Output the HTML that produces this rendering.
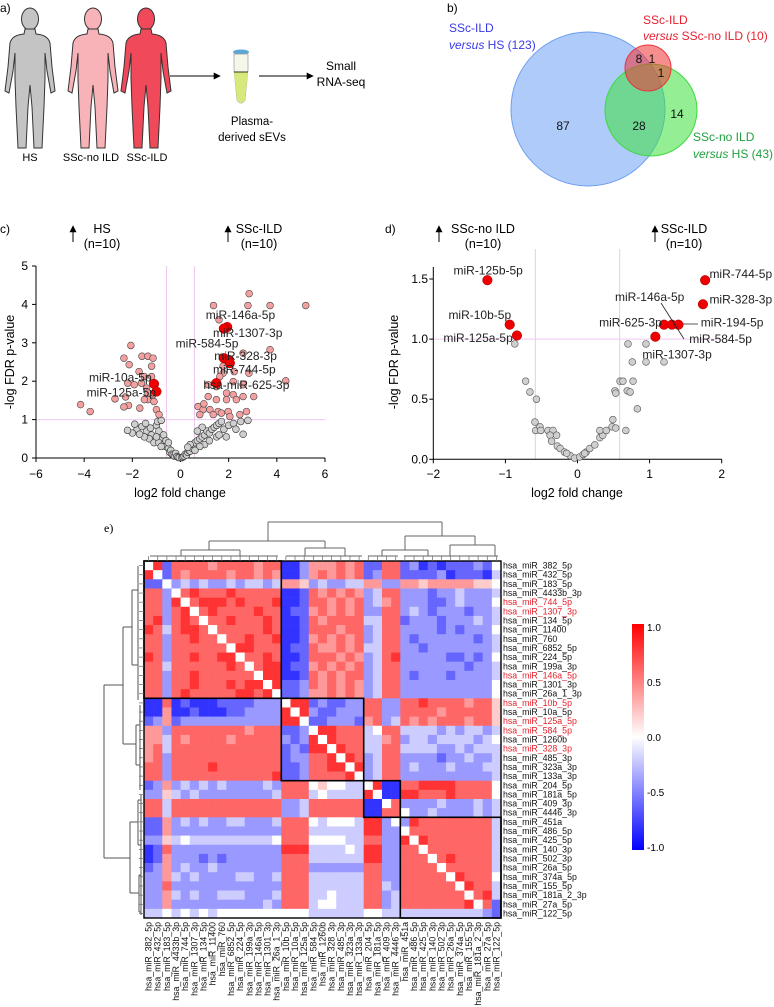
<!DOCTYPE html>
<html><head><meta charset="utf-8"><style>
html,body{margin:0;padding:0;background:#fff}
svg{display:block;font-family:"Liberation Sans","DejaVu Sans",sans-serif}
</style></head><body>
<svg id="fig" width="774" height="1007" viewBox="0 0 774 1007" xmlns="http://www.w3.org/2000/svg">
<defs>
<marker id="ah" viewBox="0 0 10 10" refX="9" refY="5" markerWidth="7" markerHeight="7" orient="auto"><path d="M0,0 L10,5 L0,10 z" fill="#000"/></marker>
<linearGradient id="cbg" x1="0" y1="0" x2="0" y2="1"><stop offset="0" stop-color="#ff0000"/><stop offset="0.5" stop-color="#ffffff"/><stop offset="1" stop-color="#0000ff"/></linearGradient>
<symbol id="person" viewBox="0 0 52 143"><ellipse cx="26" cy="12" rx="8.5" ry="11"/><path d="M21,22 L31,22 L32,27 Q44,28 46,36 L48,60 L51,84 L47,86 L43,64 L41,46 L41,72 L40,100 L38,141 L30,141 L28,100 L26,78 L24,100 L22,141 L14,141 L12,100 L11,72 L11,46 L9,64 L5,86 L1,84 L4,60 L6,36 Q8,28 20,27 Z"/></symbol>
</defs>

<g>
<text x="0" y="12" font-size="12">a)</text>
<use href="#person" x="4" y="7" width="52" height="143" fill="#c4c4c4" stroke="#333" stroke-width="1"/>
<use href="#person" x="67" y="7" width="52" height="143" fill="#f7b3b8" stroke="#333" stroke-width="1"/>
<use href="#person" x="120" y="7" width="52" height="143" fill="#f04a5a" stroke="#333" stroke-width="1"/>
<text x="30" y="161" font-size="11" text-anchor="middle">HS</text>
<text x="91" y="161" font-size="11" text-anchor="middle">SSc-no ILD</text>
<text x="147" y="161" font-size="11" text-anchor="middle">SSc-ILD</text>
<line x1="170" y1="76" x2="220" y2="76" stroke="#000" stroke-width="1" marker-end="url(#ah)"/>
<g>
<ellipse cx="241" cy="52" rx="8" ry="2.5" fill="#5aa7d8"/>
<path d="M234,54 L248,54 L248,70 L245,100 Q241,106 237,100 L234,70 Z" fill="#f4f8e8" stroke="#999" stroke-width="0.7"/>
<path d="M234,72 L248,72 L245,100 Q241,106 237,100 Z" fill="#d9e87a"/>
<line x1="234" y1="72" x2="248" y2="72" stroke="#333" stroke-width="1"/>
</g>
<text x="252" y="125" font-size="11.5" text-anchor="middle">Plasma-</text>
<text x="252" y="141" font-size="11.5" text-anchor="middle">derived sEVs</text>
<line x1="259" y1="76" x2="313" y2="76" stroke="#000" stroke-width="1" marker-end="url(#ah)"/>
<text x="341" y="70" font-size="12" text-anchor="middle">Small</text>
<text x="341" y="86" font-size="12" text-anchor="middle">RNA-seq</text>
</g>

<g>
<text x="447" y="12" font-size="12">b)</text>
<circle cx="588" cy="109" r="77" fill="rgba(110,160,245,0.55)" stroke="#6d9ff0" stroke-width="1"/>
<circle cx="651" cy="110" r="46" fill="rgba(60,225,60,0.55)" stroke="#3ed83e" stroke-width="1"/>
<circle cx="648" cy="68" r="23" fill="rgba(240,50,50,0.55)" stroke="#e8343c" stroke-width="1"/>
<g font-size="12" fill="#111" text-anchor="middle">
<text x="563" y="130">87</text>
<text x="639" y="130">28</text>
<text x="677" y="118">14</text>
<text x="639" y="63">8</text>
<text x="652" y="63">1</text>
<text x="661" y="77">1</text>
</g>
<g font-size="12">
<text x="449" y="32" fill="#3a3ae8">SSc-ILD</text>
<text x="449" y="49" fill="#3a3ae8"><tspan font-style="italic">versus</tspan> HS (123)</text>
<text x="643" y="24" fill="#e82030">SSc-ILD</text>
<text x="643" y="40" fill="#e82030"><tspan font-style="italic">versus</tspan> SSc-no ILD (10)</text>
<text x="693" y="141" fill="#20a040">SSc-no ILD</text>
<text x="693" y="158" fill="#20a040"><tspan font-style="italic">versus</tspan> HS (43)</text>
</g>
</g>

<g id="pc"></g>
<g id="pd"></g>
<g id="pe"></g>
</svg>
<script>
const cGrayX=[-1.8,-2.0,-1.6,-1.4,-1.2,-1.0,-0.9,-0.8,-0.7,-1.3,-1.5,-1.7,-1.1,-0.9,-0.7,-0.6,-0.5,-0.45,-0.4,-0.35,-0.3,-0.25,-0.2,-0.15,-0.1,-0.05,-0.6,-0.8,-1.0,-1.25,-1.45,-0.5,-0.95,-0.8,-2.2,-1.9,0.05,0.1,0.15,0.2,0.25,0.3,0.35,0.4,0.45,0.5,0.55,0.6,0.7,0.8,0.9,1.0,1.1,1.2,1.3,1.4,1.5,1.6,1.7,1.8,2.0,2.2,2.5,2.8,2.6,1.0,0.8,0.6,1.2,1.5,0.9,0.7,1.9,0.4,0.3,2.3,1.6];
const cGrayY=[0.75,0.65,0.82,0.7,0.6,0.85,0.7,0.5,0.6,0.5,0.55,0.62,0.4,0.4,0.35,0.3,0.25,0.15,0.2,0.1,0.08,0.05,0.12,0.04,0.02,0.01,0.45,0.3,0.55,0.78,0.9,0.4,0.95,0.98,0.72,0.88,0.01,0.03,0.05,0.1,0.08,0.15,0.2,0.18,0.3,0.25,0.35,0.4,0.45,0.5,0.55,0.6,0.7,0.65,0.75,0.8,0.85,0.9,0.95,0.75,0.85,0.9,0.95,0.98,0.62,0.35,0.3,0.2,0.45,0.55,0.8,0.7,0.55,0.35,0.28,0.75,0.6];
const cPinkX=[2.85,1.37,2.8,3.72,5.2,1.6,3.72,-2.06,-2.35,-1.6,-1.35,-1.14,-2.13,-1.2,-1.72,-1.5,-1.2,-2.19,-1.92,-1.62,-1.41,-2.28,-2.72,-2.16,-2.35,-1.69,-4.15,-3.75,-1.35,-1.14,-1.1,-1.0,-0.89,-1.35,-1.5,1.77,2.23,1.77,2.0,2.6,2.84,1.63,1.15,1.42,2.19,2.6,4.37,3.04,1.15,1.49,1.91,2.19,2.6,1.91,2.32,0.73,0.94,1.22,1.56,1.98,2.74,0.8,1.36,2.05,2.46,1.7,0.97,1.49];
const cPinkY=[4.28,3.97,3.97,3.97,3.97,3.6,2.82,2.93,2.6,2.65,2.65,2.6,2.43,2.39,2.25,2.12,2.12,1.95,1.91,1.95,1.82,1.59,1.54,1.37,1.33,1.3,1.39,1.21,1.52,1.65,1.47,1.26,1.13,1.69,1.52,2.39,2.25,2.21,2.47,2.73,2.21,2.12,1.91,1.95,1.99,1.91,2.01,1.6,1.6,1.52,1.69,1.65,1.6,1.52,1.52,1.34,1.26,1.26,1.21,1.21,1.21,1.13,1.13,1.08,1.13,1.17,1.41,1.86];
const cRedX=[1.94,1.8,1.8,1.98,2.05,1.49,-1.1,-1.0];
const cRedY=[3.41,3.37,2.6,2.56,2.47,1.95,1.93,1.73];
const cXTicks=[-6,-4,-2,0,2,4,6];
const cYTicks=[0,1,2,3,4,5];
const cLabels=["miR-146a-5p","miR-1307-3p","miR-584-5p","miR-328-3p","miR-744-5p","hsa-miR-625-3p","miR-10a-5p","miR-125a-5p"];
const cLabelX=[1.05,1.35,-0.2,1.4,1.35,0.95,-3.8,-3.9];
const cLabelY=[3.73,3.25,2.98,2.65,2.3,1.9,2.1,1.7];

const dGrayX=[-0.87,-0.72,-0.66,-0.57,-0.59,-0.58,-0.52,-0.51,-0.41,-0.34,-0.38,-0.29,-0.36,-0.28,-0.24,-0.18,-0.1,-0.04,0.03,0.08,0.12,0.17,0.24,0.31,0.35,0.31,0.4,0.49,0.48,0.53,0.52,0.53,0.59,0.63,0.67,0.69,0.73,0.7,0.76,0.77,0.83,0.95,0.95,1.2,-0.15,0.1];
const dGrayY=[0.96,0.65,0.56,0.5,0.31,0.24,0.27,0.24,0.24,0.24,0.2,0.2,0.15,0.11,0.09,0.06,0.03,0.01,0.02,0.04,0.06,0.09,0.12,0.18,0.2,0.24,0.24,0.33,0.27,0.26,0.57,0.55,0.65,0.65,0.24,0.57,0.56,0.96,0.81,0.65,0.42,0.96,0.81,0.81,0.05,0.05];
const dRedX=[-1.25,-0.94,-0.84,1.77,1.74,1.2,1.31,1.4,1.08];
const dRedY=[1.49,1.12,1.03,1.49,1.29,1.12,1.12,1.12,1.02];
const dXTicks=[-2,-1,0,1,2];
const dYTicks=[0,0.5,1,1.5];
const dLabels=["miR-125b-5p","miR-10b-5p","miR-125a-5p","miR-744-5p","miR-328-3p","miR-146a-5p","miR-625-3p","miR-194-5p","miR-584-5p","miR-1307-3p"];
const dLabelX=[-1.72,-1.79,-1.86,1.83,1.83,0.52,0.3,1.71,1.55,0.9];
const dLabelY=[1.57,1.2,1.01,1.54,1.33,1.35,1.14,1.14,1.0,0.87];

const miRNAs=["hsa_miR_382_5p","hsa_miR_432_5p","hsa_miR_183_5p","hsa_miR_4433b_3p","hsa_miR_744_5p","hsa_miR_1307_3p","hsa_miR_134_5p","hsa_miR_11400","hsa_miR_760","hsa_miR_6852_5p","hsa_miR_224_5p","hsa_miR_199a_3p","hsa_miR_146a_5p","hsa_miR_1301_3p","hsa_miR_26a_1_3p","hsa_miR_10b_5p","hsa_miR_10a_5p","hsa_miR_125a_5p","hsa_miR_584_5p","hsa_miR_1260b","hsa_miR_328_3p","hsa_miR_485_3p","hsa_miR_323a_3p","hsa_miR_133a_3p","hsa_miR_204_5p","hsa_miR_181a_5p","hsa_miR_409_3p","hsa_miR_4446_3p","hsa_miR_451a","hsa_miR_486_5p","hsa_miR_425_5p","hsa_miR_140_3p","hsa_miR_502_3p","hsa_miR_26a_5p","hsa_miR_374a_5p","hsa_miR_155_5p","hsa_miR_181a_2_3p","hsa_miR_27a_5p","hsa_miR_122_5p"];
const highlighted=["hsa_miR_744_5p","hsa_miR_1307_3p","hsa_miR_146a_5p","hsa_miR_10b_5p","hsa_miR_125a_5p","hsa_miR_584_5p","hsa_miR_328_3p"];
const corrRows=[
"w92888878888788113777878228823121222325",
"9w2878888788787113787878238822223122214",
"22w343433434434776343344773377677777665",
"883w89888988888112878787348833323343334",
"8839w8999898889112887878347833322343335",
"88389w898888988122787878338834323332334",
"893898w88988898112878888448823332333434",
"9848998w8888898112888788348833332323335",
"88388988w889889112787878348832333333234",
"883888888w99888122877878448833233333334",
"9838898899w8898112888787348933333223235",
"88488888898w899122787878348833333332334",
"883889888888w99112878788348832333233334",
"8838898889899w9223878787348833333333335",
"88389888889989w223778787348833333333335",
"118121112222333w99232233883388988887886",
"1171121112233339w9322333883388887888886",
"23723333333333399w223332783487878887886",
"773888888887888223w99888458844443434434",
"7748788887888883239w9888447834434444345",
"78488888888888823299w988448844443343444",
"783888888888888233889w98348833332334334",
"8838888988888882238899w9348834333433344",
"88388888888888922388889w348833333333334",
"237343434333343888565544w91188999988885",
"3364343333333348884544449w1199888988885",
"88488888888888833488888811w833334333434",
"8848888888888883348888881188w3343333434",
"227343433443334888545554993w39888888884",
"2273333333333338884444449933w8888888884",
"33645444444444588855554488339w988888884",
"128333333333333999444454993388w88888884",
"1273332323333338884444449933888w8988884",
"23734334333333388833333388338888w888884",
"337434333344334888444444883388888w98885",
"3383333333333338884444448843888888w9884",
"33743433444333488844544488348888888w894",
"337333333333343888455444883488888889w82",
"445454545555555555444444554444444444432"
];
const cbTicks=[1.0,0.5,0.0,-0.5,-1.0];

const NS="http://www.w3.org/2000/svg";
function mk(parent,tag,attrs){const e=document.createElementNS(NS,tag);for(const k in attrs)e.setAttribute(k,attrs[k]);parent.appendChild(e);return e;}
function txt(parent,s,attrs){const e=mk(parent,"text",attrs);e.textContent=s;return e;}
function axisLinear(d0,d1,p0,p1){return v=>p0+(v-d0)/(d1-d0)*(p1-p0);}

(function(){
const g=document.getElementById("pc");
const X=axisLinear(-6,6,36,325), Y=axisLinear(0,5,458,266);
let t;
t=txt(g,"c)",{x:0,y:233,"font-size":12});


for(const [ax,lbl,cx,nm] of [[73,"HS",102,"hs"],[228,"SSc-ILD",259,"ssc-ild"]]){
  const a=mk(g,"line",{x1:ax,y1:242,x2:ax,y2:226,stroke:"#000","stroke-width":1,"marker-end":"url(#ah)"});
  
  
  t=txt(g,lbl,{x:cx,y:233,"font-size":12.5,"text-anchor":"middle"});
  
  
  t=txt(g,"(n=10)",{x:cx,y:248,"font-size":12.5,"text-anchor":"middle"});
  
  
}
let l=mk(g,"line",{x1:X(-0.58),x2:X(-0.58),y1:Y(5),y2:Y(0),stroke:"#efc6f2","stroke-width":1});


l=mk(g,"line",{x1:X(0.58),x2:X(0.58),y1:Y(5),y2:Y(0),stroke:"#efc6f2","stroke-width":1});


l=mk(g,"line",{x1:X(-6),x2:X(6),y1:Y(1),y2:Y(1),stroke:"#efc6f2","stroke-width":1});


l=mk(g,"path",{d:`M${X(-6)},${Y(5)} V${Y(0)} H${X(6)}`,fill:"none",stroke:"#000","stroke-width":1});


for(const v of cXTicks){
  mk(g,"line",{x1:X(v),x2:X(v),y1:Y(0),y2:Y(0)+4,stroke:"#000"});
  t=txt(g,v<0?"\u2212"+(-v):String(v),{x:X(v),y:478,"font-size":12,"text-anchor":"middle"});
  
  
}
for(const v of cYTicks){
  mk(g,"line",{x1:X(-6)-4,x2:X(-6),y1:Y(v),y2:Y(v),stroke:"#000"});
  t=txt(g,String(v),{x:28,y:Y(v)+4,"font-size":12,"text-anchor":"end"});
  
  
}
t=txt(g,"log2 fold change",{x:180,y:497,"font-size":12.5,"text-anchor":"middle"});


t=txt(g,"-log FDR p-value",{x:0,y:0,"font-size":12.5,"text-anchor":"middle",transform:"translate(14,362) rotate(-90)"});


for(let i=0;i<cGrayX.length;i++){const c=mk(g,"circle",{cx:X(cGrayX[i]),cy:Y(cGrayY[i]),r:3.4,fill:"#cfcfcf",stroke:"#333","stroke-width":0.6});

}
for(let i=0;i<cPinkX.length;i++){const c=mk(g,"circle",{cx:X(cPinkX[i]),cy:Y(cPinkY[i]),r:3.4,fill:"#f4a0a0",stroke:"#444","stroke-width":0.6});

}
for(let i=0;i<cRedX.length;i++){const c=mk(g,"circle",{cx:X(cRedX[i]),cy:Y(cRedY[i]),r:4.8,fill:"#ee0000",stroke:"#900","stroke-width":0.5});

}
for(let i=0;i<cLabels.length;i++){t=txt(g,cLabels[i],{x:X(cLabelX[i]),y:Y(cLabelY[i])+4,"font-size":12,fill:"#222"});

}
})();

(function(){
const g=document.getElementById("pd");
const X=axisLinear(-2,2,433.3,721.7), Y=axisLinear(0,1.5,459.3,279);
let t;
t=txt(g,"d)",{x:385,y:233,"font-size":12});


for(const [ax,lbl,cx,nm] of [[439,"SSc-no ILD",483,"ssc-no-ild"],[655,"SSc-ILD",684,"ssc-ild"]]){
  const a=mk(g,"line",{x1:ax,y1:242,x2:ax,y2:226,stroke:"#000","stroke-width":1,"marker-end":"url(#ah)"});
  
  
  t=txt(g,lbl,{x:cx,y:233,"font-size":12.5,"text-anchor":"middle"});
  
  
  t=txt(g,"(n=10)",{x:cx,y:248,"font-size":12.5,"text-anchor":"middle"});
  
  
}
let l=mk(g,"line",{x1:X(-0.585),x2:X(-0.585),y1:249,y2:Y(0),stroke:"#efc6f2","stroke-width":1});


l=mk(g,"line",{x1:X(0.585),x2:X(0.585),y1:249,y2:Y(0),stroke:"#efc6f2","stroke-width":1});


l=mk(g,"line",{x1:X(-2),x2:X(2),y1:Y(1),y2:Y(1),stroke:"#efc6f2","stroke-width":1});


l=mk(g,"path",{d:`M${X(-2)},${Y(1.6)} V${Y(0)} H${X(2)}`,fill:"none",stroke:"#000","stroke-width":1});


for(const v of dXTicks){
  mk(g,"line",{x1:X(v),x2:X(v),y1:Y(0),y2:Y(0)+4,stroke:"#000"});
  t=txt(g,v<0?"\u2212"+(-v):String(v),{x:X(v),y:478,"font-size":12,"text-anchor":"middle"});
  
  
}
for(const v of dYTicks){
  mk(g,"line",{x1:X(-2)-4,x2:X(-2),y1:Y(v),y2:Y(v),stroke:"#000"});
  t=txt(g,v.toFixed(1),{x:428,y:Y(v)+4,"font-size":12,"text-anchor":"end"});
  
  
}
t=txt(g,"log2 fold change",{x:577,y:497,"font-size":12.5,"text-anchor":"middle"});


t=txt(g,"-log FDR p-value",{x:0,y:0,"font-size":12.5,"text-anchor":"middle",transform:"translate(398,362) rotate(-90)"});


for(let i=0;i<dGrayX.length;i++){const c=mk(g,"circle",{cx:X(dGrayX[i]),cy:Y(dGrayY[i]),r:3.4,fill:"#cfcfcf",stroke:"#555","stroke-width":0.6});

}
for(let i=0;i<dRedX.length;i++){const c=mk(g,"circle",{cx:X(dRedX[i]),cy:Y(dRedY[i]),r:4.8,fill:"#ee0000",stroke:"#900","stroke-width":0.5});

}
l=mk(g,"path",{d:"M661,303 L684,339 M683,324 L698,324",stroke:"#222","stroke-width":0.8,fill:"none"});


for(let i=0;i<dLabels.length;i++){t=txt(g,dLabels[i],{x:X(dLabelX[i]),y:Y(dLabelY[i])+4,"font-size":12,fill:"#222"});

}
})();

(function(){
const g=document.getElementById("pe");
const n=miRNAs.length, x0=144, y0=561, size=357, cs=size/n;
let t=txt(g,"e)",{x:104,y:532,"font-size":12,"font-family":"Liberation Serif, serif"});


function col(r){
  r=Math.max(-1,Math.min(1,r));
  if(r>=0){const k=Math.round(255*(1-r));return `rgb(255,${k},${k})`;}
  const k=Math.round(255*(1+r));return `rgb(${k},${k},255)`;
}
for(let i=0;i<n;i++){
  const row=corrRows[i];
  for(let j=0;j<n;j++){
    const ch=row[j];
    const r=ch==="w"?0:(parseInt(ch,10)-5)/5;
    const c=mk(g,"rect",{x:(x0+j*cs).toFixed(2),y:(y0+i*cs).toFixed(2),width:(cs+0.3).toFixed(2),height:(cs+0.3).toFixed(2),fill:col(r)});
    
    
  }
}
const blocks=[[0,15],[15,24],[24,28],[28,39]];
for(const [a,b] of blocks){
  const r=mk(g,"rect",{x:x0+a*cs,y:y0+a*cs,width:(b-a)*cs,height:(b-a)*cs,fill:"none",stroke:"#000","stroke-width":1.6});
  
  
}
const fr=mk(g,"rect",{x:x0,y:y0,width:size,height:size,fill:"none",stroke:"#000","stroke-width":1.4});


for(let i=0;i<n;i++){
  const red=highlighted.includes(miRNAs[i]);
  t=txt(g,miRNAs[i],{x:503,y:(y0+(i+0.5)*cs+3).toFixed(2),"font-size":8.8,fill:red?"#e8202a":"#111"});
  
  
  const cx=x0+(i+0.5)*cs+3;
  t=txt(g,miRNAs[i],{x:0,y:0,"font-size":8.8,fill:"#111","text-anchor":"end",transform:`translate(${cx.toFixed(2)},922) rotate(-90)`});
  
  
}
const dtop="M268,522 H442 M268,522 V541 M442,522 V536 M209,541 H325 M209,541 V550 M325,541 V548 M181,550 H240 M181,550 V556 M240,550 V556 M305,548 H345 M305,548 V556 M345,548 V556 M405,536 H475 M405,536 V550 M475,536 V545 M382,550 H428 M382,550 V556 M428,550 V556 M450,545 H495 M450,545 V556 M495,545 V556 M150,556 H278 M286,556 H362 M368,556 H398 M404,556 H498";
let p=mk(g,"path",{d:dtop,fill:"none",stroke:"#666","stroke-width":1});


const dleft="M104,685 V858 M104,685 H123 M104,858 H130 M123,627 V744 M123,627 H132 M123,744 H136 M130,822 V893 M130,822 H138 M130,893 H139 M132,590 V665 M132,590 H138 M132,665 H138 M136,725 V765 M136,725 H140 M136,765 H140 M138,800 V845 M138,800 H141 M138,845 H141 M139,875 V912 M139,875 H141 M139,912 H141 M138,566 V700 M140,705 V790 M141,795 V915";
p=mk(g,"path",{d:dleft,fill:"none",stroke:"#555","stroke-width":1});


for(let i=0;i<n;i++){
  const yy=y0+(i+0.5)*cs;
  mk(g,"line",{x1:139,x2:144,y1:yy,y2:yy,stroke:"#666","stroke-width":0.7});
  const xx=x0+(i+0.5)*cs;
  mk(g,"line",{x1:xx,x2:xx,y1:556,y2:561,stroke:"#666","stroke-width":0.7});
}
const cbY=axisLinear(1,-1,627,847);
const cb=mk(g,"rect",{x:632,y:cbY(1)-3,width:12,height:cbY(-1)-cbY(1)+6,fill:"url(#cbg)"});


for(const v of cbTicks){
  t=txt(g,v.toFixed(1),{x:647,y:cbY(v)+4,"font-size":10});
  
  
}
})();
</script>
</body></html>
